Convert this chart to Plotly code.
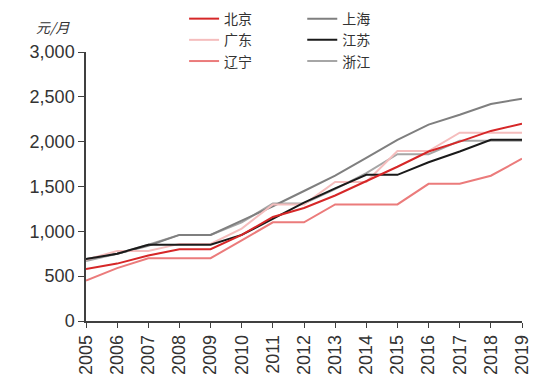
import plotly.graph_objects as go

years = list(range(2005, 2020))
beijing   = [580, 640, 730, 800, 800, 960, 1160, 1260, 1400, 1560, 1720, 1890, 2000, 2120, 2200]
guangdong = [684, 780, 780, 860, 860, 1030, 1300, 1300, 1550, 1550, 1895, 1895, 2100, 2100, 2100]
liaoning  = [450, 590, 700, 700, 700, 900, 1100, 1100, 1300, 1300, 1300, 1530, 1530, 1620, 1810]
shanghai  = [690, 750, 840, 960, 960, 1120, 1280, 1450, 1620, 1820, 2020, 2190, 2300, 2420, 2480]
jiangsu   = [690, 750, 850, 850, 850, 960, 1140, 1320, 1480, 1630, 1630, 1770, 1890, 2020, 2020]
zhejiang  = [670, 750, 850, 960, 960, 1100, 1310, 1310, 1470, 1650, 1860, 1860, 2010, 2010, 2010]

y_ticks = [0, 500, 1000, 1500, 2000, 2500, 3000]
y_labels = ["0", "500", "1,000", "1,500", "2,000", "2,500", "3,000"]

series = [
    # name, values, color, legend, rank
    ("浙江", zhejiang, "#A6A6A6", "legend2", 3),
    ("上海", shanghai, "#7F7F7F", "legend2", 1),
    ("广东", guangdong, "#F5BDBD", "legend", 2),
    ("辽宁", liaoning, "#EB7B7B", "legend", 3),
    ("江苏", jiangsu, "#1A1A1A", "legend2", 2),
    ("北京", beijing, "#D62728", "legend", 1),
]

fig = go.Figure()
for name, vals, color, leg, rank in series:
    fig.add_trace(go.Scatter(
        x=years, y=vals, mode="lines", name=name,
        line=dict(color=color, width=2),
        legend=leg, legendrank=rank,
    ))

legend_font = dict(family="Noto Sans CJK SC", size=14, color="#333333")
fig.update_layout(
    width=550, height=384,
    margin=dict(l=78, r=36, t=44, b=71, autoexpand=False),
    paper_bgcolor="white", plot_bgcolor="white",
    showlegend=True,
    legend=dict(x=0.225, y=1.182, xanchor="left", yanchor="top",
                font=legend_font, bgcolor="rgba(0,0,0,0)",
                tracegroupgap=0, itemwidth=30),
    legend2=dict(x=0.496, y=1.182, xanchor="left", yanchor="top",
                 font=legend_font, bgcolor="rgba(0,0,0,0)",
                 tracegroupgap=0, itemwidth=30),
    xaxis=dict(range=[2005, 2019], tickmode="array", tickvals=years,
               ticktext=[str(y) for y in years], tickangle=-90,
               showline=True, linecolor="#404040", linewidth=1.5,
               ticks="outside", ticklen=5, tickcolor="#404040",
               showgrid=False, zeroline=False, automargin=False,
               tickfont=dict(family="Liberation Sans", size=18, color="#333333")),
    yaxis=dict(range=[0, 3000], tickmode="array", tickvals=y_ticks,
               ticktext=y_labels,
               showline=True, linecolor="#404040", linewidth=1.5,
               ticks="outside", ticklen=6, tickcolor="#404040",
               showgrid=False, zeroline=False, automargin=False,
               tickfont=dict(family="Liberation Sans", size=18, color="#333333")),
    annotations=[dict(text="<i>元/月</i>", xref="paper", yref="paper",
                      x=-0.076, y=1.093, xanchor="center", yanchor="middle",
                      showarrow=False,
                      font=dict(family="Noto Sans CJK SC", size=14, color="#333333"))],
)

fig.write_html("out.html")
